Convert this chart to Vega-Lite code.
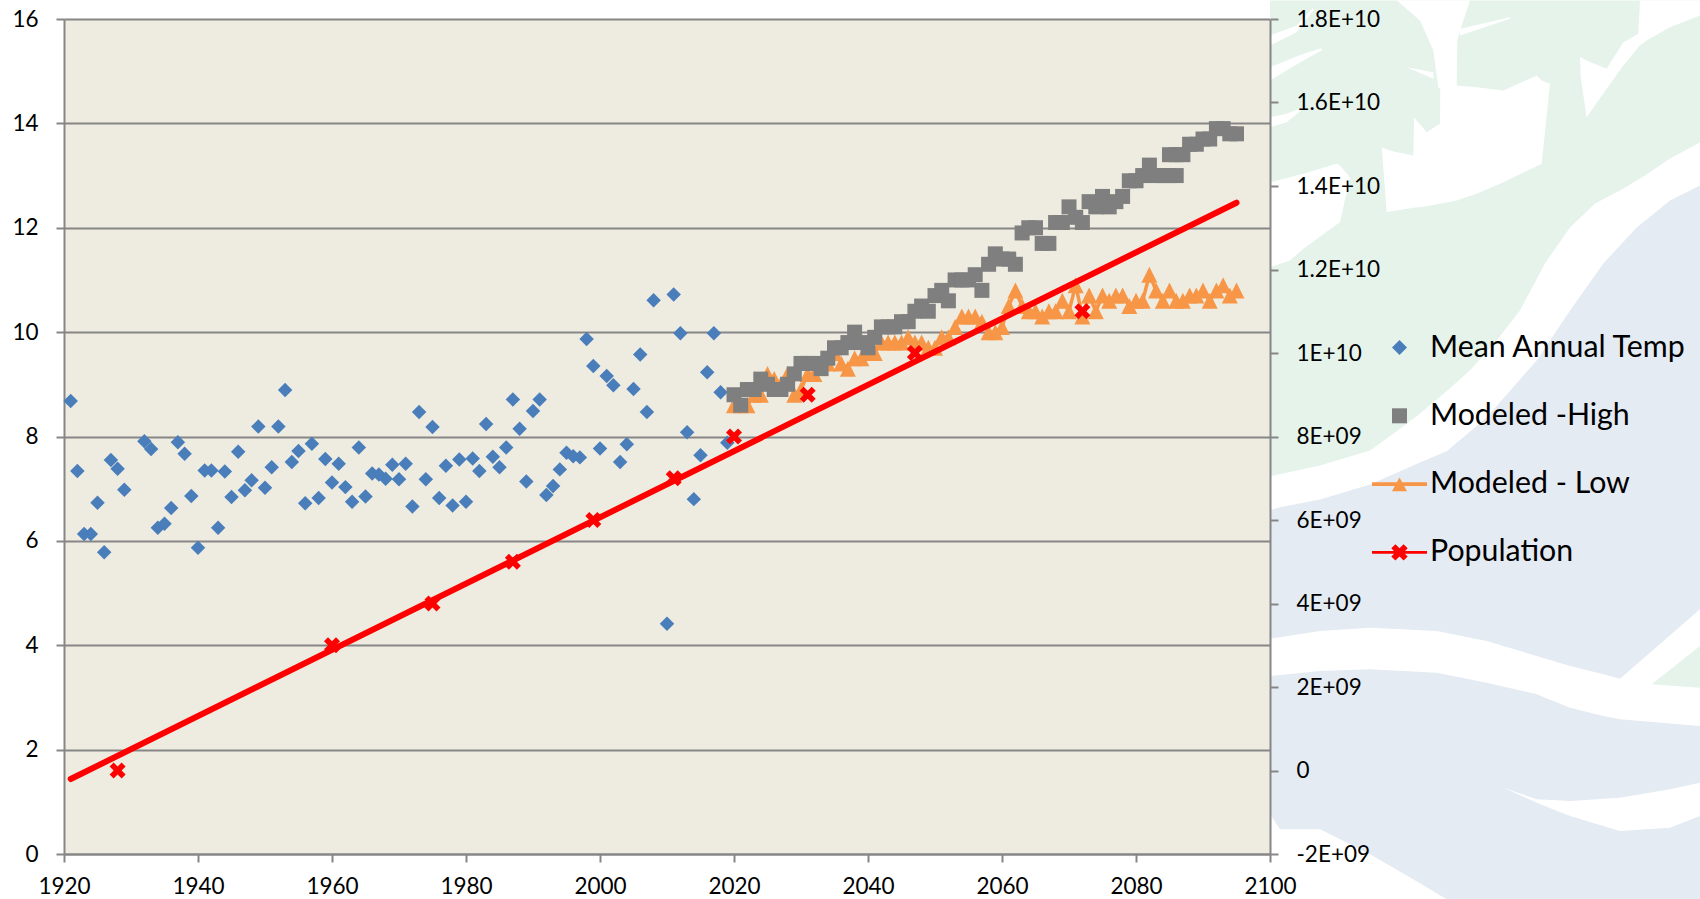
{"$schema":"https://vega.github.io/schema/vega-lite/v6.json","width":1206,"height":835,"autosize":"none","padding":{"left":64,"top":19,"right":430,"bottom":45},"background":"#ffffff","config":{"view":{"fill":"#EEECE1","stroke":null},"font":"Lato"},
"datasets":{
"green":[{"patch":"g","year":2100,"top":16.354,"bottom":7.236},{"patch":"g","year":2107.46,"top":16.354,"bottom":7.446},{"patch":"g","year":2114.93,"top":16.354,"bottom":7.734},{"patch":"g","year":2118.66,"top":16.354,"bottom":8.079},{"patch":"g","year":2122.39,"top":16.354,"bottom":8.443},{"patch":"g","year":2126.12,"top":16.354,"bottom":8.845},{"patch":"g","year":2129.85,"top":16.354,"bottom":9.266},{"patch":"g","year":2133.58,"top":16.354,"bottom":9.803},{"patch":"g","year":2137.31,"top":16.354,"bottom":10.416},{"patch":"g","year":2141.04,"top":16.354,"bottom":11.316},{"patch":"g","year":2144.78,"top":16.354,"bottom":12.006},{"patch":"g","year":2148.51,"top":16.354,"bottom":12.466},{"patch":"g","year":2152.24,"top":16.354,"bottom":12.715},{"patch":"g","year":2155.97,"top":16.354,"bottom":13.002},{"patch":"g","year":2159.7,"top":16.354,"bottom":13.328},{"patch":"g","year":2164.18,"top":16.354,"bottom":13.634}],
"blue":[{"patch":"b","year":2100,"top":6.585,"bottom":0.761},{"patch":"b","year":2101.49,"top":6.642,"bottom":0.473},{"patch":"b","year":2107.46,"top":6.795,"bottom":0.473},{"patch":"b","year":2114.93,"top":7.082,"bottom":-0.006},{"patch":"b","year":2122.39,"top":7.504,"bottom":-0.561},{"patch":"b","year":2126.37,"top":7.715,"bottom":-0.868},{"patch":"b","year":2132.34,"top":8.366,"bottom":-0.868},{"patch":"b","year":2139.8,"top":9.458,"bottom":-0.868},{"patch":"b","year":2144.78,"top":10.416,"bottom":-0.868},{"patch":"b","year":2149.75,"top":11.316,"bottom":-0.868},{"patch":"b","year":2154.73,"top":12.006,"bottom":-0.868},{"patch":"b","year":2159.7,"top":12.523,"bottom":-0.868},{"patch":"b","year":2164.18,"top":12.81,"bottom":-0.868}],
"white":[{"patch":"band","year":2100,"top":4.126,"bottom":3.411},{"patch":"band","year":2107.46,"top":4.273,"bottom":3.506},{"patch":"band","year":2114.93,"top":4.337,"bottom":3.538},{"patch":"band","year":2124.88,"top":4.273,"bottom":3.475},{"patch":"band","year":2132.34,"top":4.081,"bottom":3.283},{"patch":"band","year":2139.8,"top":3.794,"bottom":3.06},{"patch":"band","year":2144.78,"top":3.602,"bottom":2.804},{"patch":"band","year":2149.75,"top":3.443,"bottom":2.645},{"patch":"band","year":2152.24,"top":3.36,"bottom":2.581},{"patch":"band","year":2164.18,"top":4.688,"bottom":2.453},
{"patch":"crescent","year":2134.83,"top":1.271,"bottom":1.271},{"patch":"crescent","year":2139.8,"top":1.048,"bottom":0.984},{"patch":"crescent","year":2144.78,"top":1.016,"bottom":0.729},{"patch":"crescent","year":2152.24,"top":1.08,"bottom":0.441},{"patch":"crescent","year":2159.7,"top":1.24,"bottom":0.505},{"patch":"crescent","year":2164.18,"top":1.367,"bottom":0.729},
{"patch":"s1","year":2100,"top":15.683,"bottom":15.492},{"patch":"s1","year":2103.98,"top":15.875,"bottom":15.747},{"patch":"s1","year":2106.47,"top":16.226,"bottom":16.162},
{"patch":"s2","year":2100,"top":15.077,"bottom":14.821},{"patch":"s2","year":2104.98,"top":15.332,"bottom":15.205},{"patch":"s2","year":2107.71,"top":15.441,"bottom":15.396},
{"patch":"s3","year":2100,"top":14.119,"bottom":13.927},{"patch":"s3","year":2102.49,"top":14.183,"bottom":14.023},{"patch":"s3","year":2104.98,"top":14.31,"bottom":14.279},
{"patch":"inlet","year":2100,"top":12.874,"bottom":11.245},{"patch":"inlet","year":2102.99,"top":12.969,"bottom":11.373},{"patch":"inlet","year":2104.98,"top":13.033,"bottom":11.596},{"patch":"inlet","year":2109.95,"top":13.225,"bottom":12.063},{"patch":"inlet","year":2110.45,"top":13.193,"bottom":12.107},{"patch":"inlet","year":2111.94,"top":12.969,"bottom":12.969},
{"patch":"cut","year":2116.67,"top":13.544,"bottom":13.544},{"patch":"cut","year":2117.41,"top":13.5,"bottom":12.3},{"patch":"cut","year":2118.91,"top":13.448,"bottom":12.331},{"patch":"cut","year":2121.39,"top":13.384,"bottom":12.382},{"patch":"cut","year":2121.49,"top":14.119,"bottom":12.382},{"patch":"cut","year":2123.38,"top":13.832,"bottom":12.414},{"patch":"cut","year":2125.37,"top":13.991,"bottom":12.458},{"patch":"cut","year":2125.42,"top":14.681,"bottom":12.458},{"patch":"cut","year":2127.86,"top":14.726,"bottom":12.522},{"patch":"cut","year":2130.85,"top":14.694,"bottom":12.65},{"patch":"cut","year":2134.83,"top":14.63,"bottom":12.874},{"patch":"cut","year":2139.8,"top":14.917,"bottom":13.18},{"patch":"cut","year":2140.55,"top":14.821,"bottom":13.225},{"patch":"cut","year":2141.79,"top":14.757,"bottom":14.757},
{"patch":"channel","year":2118.91,"top":16.354,"bottom":16.354},{"patch":"channel","year":2122.39,"top":16.354,"bottom":15.971},{"patch":"channel","year":2124.38,"top":16.354,"bottom":15.396},{"patch":"channel","year":2125.12,"top":16.354,"bottom":14.681},{"patch":"channel","year":2127.86,"top":16.354,"bottom":14.681},{"patch":"channel","year":2127.96,"top":16.354,"bottom":15.588},{"patch":"channel","year":2128.61,"top":16.354,"bottom":15.875},{"patch":"channel","year":2129.85,"top":16.354,"bottom":16.354},
{"patch":"finger","year":2120.4,"top":15.077,"bottom":15.077},{"patch":"finger","year":2124.38,"top":14.981,"bottom":14.853},
{"patch":"strip","year":2128.36,"top":15.811,"bottom":15.683},{"patch":"strip","year":2135.82,"top":16.035,"bottom":16.003},
{"patch":"corner","year":2146.27,"top":15.268,"bottom":15.268},{"patch":"corner","year":2146.37,"top":15.268,"bottom":14.885},{"patch":"corner","year":2147.26,"top":15.204,"bottom":14.119},{"patch":"corner","year":2150.25,"top":15.045,"bottom":14.662},{"patch":"corner","year":2152.74,"top":15.556,"bottom":15.109},{"patch":"corner","year":2154.98,"top":15.715,"bottom":15.46},{"patch":"corner","year":2155.22,"top":16.354,"bottom":15.492},{"patch":"corner","year":2156.22,"top":16.354,"bottom":15.588},{"patch":"corner","year":2159.7,"top":16.354,"bottom":15.843},{"patch":"corner","year":2164.18,"top":16.354,"bottom":16.067}],
"isle":[{"patch":"i","year":2156.97,"top":3.251,"bottom":3.251},{"patch":"i","year":2164.18,"top":3.985,"bottom":3.187}],
"temp":[{"year":1921,"temp":8.68},{"year":1922,"temp":7.34},{"year":1923,"temp":6.13},{"year":1924,"temp":6.13},{"year":1925,"temp":6.73},{"year":1926,"temp":5.78},{"year":1927,"temp":7.55},{"year":1928,"temp":7.38},{"year":1929,"temp":6.98},{"year":1932,"temp":7.91},{"year":1933,"temp":7.76},{"year":1934,"temp":6.25},{"year":1935,"temp":6.33},{"year":1936,"temp":6.63},{"year":1937,"temp":7.89},{"year":1938,"temp":7.67},{"year":1939,"temp":6.86},{"year":1940,"temp":5.87},{"year":1941,"temp":7.35},{"year":1942,"temp":7.35},{"year":1943,"temp":6.25},{"year":1944,"temp":7.33},{"year":1945,"temp":6.84},{"year":1946,"temp":7.71},{"year":1947,"temp":6.97},{"year":1948,"temp":7.16},{"year":1949,"temp":8.19},{"year":1950,"temp":7.02},{"year":1951,"temp":7.41},{"year":1952,"temp":8.19},{"year":1953,"temp":8.89},{"year":1954,"temp":7.51},{"year":1955,"temp":7.72},{"year":1956,"temp":6.72},{"year":1957,"temp":7.86},{"year":1958,"temp":6.82},{"year":1959,"temp":7.57},{"year":1960,"temp":7.12},{"year":1961,"temp":7.48},{"year":1962,"temp":7.03},{"year":1963,"temp":6.75},{"year":1964,"temp":7.79},{"year":1965,"temp":6.85},{"year":1966,"temp":7.29},{"year":1967,"temp":7.27},{"year":1968,"temp":7.19},{"year":1969,"temp":7.46},{"year":1970,"temp":7.18},{"year":1971,"temp":7.48},{"year":1972,"temp":6.66},{"year":1973,"temp":8.47},{"year":1974,"temp":7.18},{"year":1975,"temp":8.18},{"year":1976,"temp":6.82},{"year":1977,"temp":7.44},{"year":1978,"temp":6.68},{"year":1979,"temp":7.56},{"year":1980,"temp":6.75},{"year":1981,"temp":7.58},{"year":1982,"temp":7.34},{"year":1983,"temp":8.24},{"year":1984,"temp":7.61},{"year":1985,"temp":7.41},{"year":1986,"temp":7.79},{"year":1987,"temp":8.71},{"year":1988,"temp":8.15},{"year":1989,"temp":7.14},{"year":1990,"temp":8.49},{"year":1991,"temp":8.71},{"year":1992,"temp":6.88},{"year":1993,"temp":7.05},{"year":1994,"temp":7.37},{"year":1995,"temp":7.69},{"year":1996,"temp":7.62},{"year":1997,"temp":7.6},{"year":1998,"temp":9.87},{"year":1999,"temp":9.35},{"year":2000,"temp":7.77},{"year":2001,"temp":9.16},{"year":2002,"temp":8.98},{"year":2003,"temp":7.51},{"year":2004,"temp":7.85},{"year":2005,"temp":8.91},{"year":2006,"temp":9.57},{"year":2007,"temp":8.47},{"year":2008,"temp":10.61},{"year":2010,"temp":4.41},{"year":2011,"temp":10.72},{"year":2012,"temp":9.98},{"year":2013,"temp":8.08},{"year":2014,"temp":6.8},{"year":2015,"temp":7.64},{"year":2016,"temp":9.23},{"year":2017,"temp":9.98},{"year":2018,"temp":8.85},{"year":2019,"temp":7.88}],
"high":[{"year":2020,"temp":8.8},{"year":2021,"temp":8.6},{"year":2022,"temp":8.9},{"year":2023,"temp":8.9},{"year":2024,"temp":9.1},{"year":2025,"temp":9.0},{"year":2026,"temp":8.9},{"year":2027,"temp":8.9},{"year":2028,"temp":9.0},{"year":2029,"temp":9.2},{"year":2030,"temp":9.4},{"year":2031,"temp":9.4},{"year":2032,"temp":9.4},{"year":2033,"temp":9.3},{"year":2034,"temp":9.5},{"year":2035,"temp":9.7},{"year":2036,"temp":9.7},{"year":2037,"temp":9.8},{"year":2038,"temp":10.0},{"year":2039,"temp":9.8},{"year":2040,"temp":9.7},{"year":2041,"temp":9.9},{"year":2042,"temp":10.1},{"year":2043,"temp":10.1},{"year":2044,"temp":10.1},{"year":2045,"temp":10.2},{"year":2046,"temp":10.2},{"year":2047,"temp":10.4},{"year":2048,"temp":10.5},{"year":2049,"temp":10.4},{"year":2050,"temp":10.7},{"year":2051,"temp":10.8},{"year":2052,"temp":10.6},{"year":2053,"temp":11.0},{"year":2054,"temp":11.0},{"year":2055,"temp":11.0},{"year":2056,"temp":11.1},{"year":2057,"temp":10.8},{"year":2058,"temp":11.3},{"year":2059,"temp":11.5},{"year":2060,"temp":11.4},{"year":2061,"temp":11.4},{"year":2062,"temp":11.3},{"year":2063,"temp":11.9},{"year":2064,"temp":12.0},{"year":2065,"temp":12.0},{"year":2066,"temp":11.7},{"year":2067,"temp":11.7},{"year":2068,"temp":12.1},{"year":2069,"temp":12.1},{"year":2070,"temp":12.4},{"year":2071,"temp":12.2},{"year":2072,"temp":12.1},{"year":2073,"temp":12.5},{"year":2074,"temp":12.4},{"year":2075,"temp":12.6},{"year":2076,"temp":12.4},{"year":2077,"temp":12.5},{"year":2078,"temp":12.6},{"year":2079,"temp":12.9},{"year":2080,"temp":12.9},{"year":2081,"temp":13.0},{"year":2082,"temp":13.2},{"year":2083,"temp":13.0},{"year":2084,"temp":13.0},{"year":2085,"temp":13.0},{"year":2086,"temp":13.0},{"year":2085,"temp":13.4},{"year":2086,"temp":13.4},{"year":2087,"temp":13.4},{"year":2088,"temp":13.6},{"year":2089,"temp":13.6},{"year":2090,"temp":13.7},{"year":2091,"temp":13.7},{"year":2092,"temp":13.9},{"year":2093,"temp":13.9},{"year":2094,"temp":13.8},{"year":2095,"temp":13.8}],
"low":[{"year":2020,"temp":8.6},{"year":2021,"temp":8.6},{"year":2022,"temp":8.6},{"year":2023,"temp":8.8},{"year":2024,"temp":8.8},{"year":2025,"temp":9.2},{"year":2026,"temp":9.1},{"year":2027,"temp":9.0},{"year":2028,"temp":9.2},{"year":2029,"temp":8.8},{"year":2030,"temp":8.9},{"year":2031,"temp":9.2},{"year":2032,"temp":9.2},{"year":2033,"temp":9.4},{"year":2034,"temp":9.4},{"year":2035,"temp":9.6},{"year":2036,"temp":9.4},{"year":2037,"temp":9.3},{"year":2038,"temp":9.5},{"year":2039,"temp":9.5},{"year":2040,"temp":9.6},{"year":2041,"temp":9.6},{"year":2042,"temp":9.8},{"year":2043,"temp":9.8},{"year":2044,"temp":9.8},{"year":2045,"temp":9.8},{"year":2046,"temp":9.9},{"year":2047,"temp":9.8},{"year":2048,"temp":9.8},{"year":2049,"temp":9.7},{"year":2050,"temp":9.7},{"year":2051,"temp":9.9},{"year":2052,"temp":9.9},{"year":2053,"temp":10.1},{"year":2054,"temp":10.3},{"year":2055,"temp":10.3},{"year":2056,"temp":10.3},{"year":2057,"temp":10.2},{"year":2058,"temp":10.0},{"year":2059,"temp":10.0},{"year":2060,"temp":10.1},{"year":2061,"temp":10.5},{"year":2062,"temp":10.8},{"year":2063,"temp":10.5},{"year":2064,"temp":10.4},{"year":2065,"temp":10.4},{"year":2066,"temp":10.3},{"year":2067,"temp":10.4},{"year":2068,"temp":10.4},{"year":2069,"temp":10.6},{"year":2070,"temp":10.4},{"year":2071,"temp":10.9},{"year":2072,"temp":10.3},{"year":2073,"temp":10.7},{"year":2074,"temp":10.4},{"year":2075,"temp":10.7},{"year":2076,"temp":10.6},{"year":2077,"temp":10.7},{"year":2078,"temp":10.7},{"year":2079,"temp":10.5},{"year":2080,"temp":10.6},{"year":2081,"temp":10.6},{"year":2082,"temp":11.1},{"year":2083,"temp":10.8},{"year":2084,"temp":10.6},{"year":2085,"temp":10.8},{"year":2086,"temp":10.6},{"year":2087,"temp":10.6},{"year":2088,"temp":10.7},{"year":2089,"temp":10.7},{"year":2090,"temp":10.8},{"year":2091,"temp":10.6},{"year":2092,"temp":10.8},{"year":2093,"temp":10.9},{"year":2094,"temp":10.7},{"year":2095,"temp":10.8}],
"pop":[{"year":1928,"population":0},{"year":1960,"population":3000000000},{"year":1975,"population":4000000000},{"year":1987,"population":5000000000},{"year":1999,"population":6000000000},{"year":2011,"population":7000000000},{"year":2020,"population":8000000000},{"year":2031,"population":9000000000},{"year":2047,"population":10000000000},{"year":2072,"population":11000000000}],
"trend":[{"year":1921,"population":-204000000},{"year":2095,"population":13600000000}],
"legendRows":[{"series":"Mean Annual Temp"},{"series":"Modeled -High"},{"series":"Modeled - Low"},{"series":"Population"}]
},
"encoding":{"x":{"field":"year","type":"quantitative","title":null,"scale":{"domain":[1920,2100],"nice":false,"zero":false},"axis":{"zindex":1,"values":[1920,1940,1960,1980,2000,2020,2040,2060,2080,2100],"format":"d","grid":false,"domainColor":"#868686","domainWidth":2,"tickColor":"#868686","tickWidth":2,"tickSize":8,"labelFontSize":22.5,"labelFont":"Lato","labelColor":"#000000","labelPadding":13,"labelFlush":false,"labelOverlap":false}}},
"layer":[
{"layer":[
{"data":{"name":"green"},"mark":{"type":"area","color":"#E5F3EB"},"encoding":{"detail":{"field":"patch"},"y":{"field":"top","type":"quantitative","title":null,"scale":{"domain":[0,16],"nice":false},"axis":{"values":[0,2,4,6,8,10,12,14,16],"grid":true,"gridColor":"#868686","gridWidth":2,"domainColor":"#868686","domainWidth":2,"tickColor":"#868686","tickWidth":2,"tickSize":8,"labelFontSize":22.5,"labelFont":"Lato","labelColor":"#000000","labelPadding":18}},"y2":{"field":"bottom"}}},
{"data":{"name":"blue"},"mark":{"type":"area","color":"#E5EBF3"},"encoding":{"detail":{"field":"patch"},"y":{"field":"top","type":"quantitative"},"y2":{"field":"bottom"}}},
{"data":{"name":"white"},"mark":{"type":"area","color":"#ffffff"},"encoding":{"detail":{"field":"patch"},"y":{"field":"top","type":"quantitative"},"y2":{"field":"bottom"}}},
{"data":{"name":"isle"},"mark":{"type":"area","color":"#E5F3EB"},"encoding":{"detail":{"field":"patch"},"y":{"field":"top","type":"quantitative"},"y2":{"field":"bottom"}}},
{"data":{"name":"temp"},"mark":{"type":"point","shape":"diamond","filled":true,"color":"#4A7EBB","size":210,"opacity":1,"strokeWidth":0},"encoding":{"y":{"field":"temp","type":"quantitative"}}},
{"data":{"name":"low"},"mark":{"type":"line","color":"#F79646","strokeWidth":3.5},"encoding":{"y":{"field":"temp","type":"quantitative"}}},
{"data":{"name":"low"},"mark":{"type":"point","shape":"M0,-1L1,1L-1,1Z","filled":true,"color":"#F79646","size":256,"opacity":1,"strokeWidth":0},"encoding":{"y":{"field":"temp","type":"quantitative"}}},
{"data":{"name":"high"},"mark":{"type":"point","shape":"square","filled":true,"color":"#7F7F7F","size":225,"opacity":1,"strokeWidth":0},"encoding":{"y":{"field":"temp","type":"quantitative"}}}
]},
{"layer":[
{"data":{"name":"trend"},"mark":{"type":"line","color":"#FF0000","strokeWidth":6,"strokeCap":"round"},"encoding":{"y":{"field":"population","type":"quantitative","title":null,"scale":{"domain":[-2000000000,18000000000],"nice":false,"zero":false},"axis":{"zindex":1,"orient":"right","values":[-2000000000,0,2000000000,4000000000,6000000000,8000000000,10000000000,12000000000,14000000000,16000000000,18000000000],"labelExpr":"datum.value === 0 ? '0' : replace(replace(replace(format(datum.value, '~e'), 'e', 'E'), regexp('E\\\\+(\\\\d)$'), 'E+0$1'), '\u2212', '-')","grid":false,"domainColor":"#868686","domainWidth":2,"tickColor":"#868686","tickWidth":2,"tickSize":8,"labelFontSize":22.5,"labelFont":"Lato","labelColor":"#000000","labelPadding":18,"labelAlign":"left"}}}},
{"data":{"name":"pop"},"mark":{"type":"point","shape":"M-1,-0.5L-0.5,-1L0,-0.5L0.5,-1L1,-0.5L0.5,0L1,0.5L0.5,1L0,0.5L-0.5,1L-1,0.5L-0.5,0Z","filled":true,"color":"#FF0000","size":256,"opacity":1,"strokeWidth":0},"encoding":{"y":{"field":"population","type":"quantitative"}}},
{"data":{"name":"legendRows"},"mark":{"type":"point","filled":true,"opacity":1,"strokeWidth":0},"encoding":{"y":{"field":"population","type":"quantitative"},
"color":{"field":"series","type":"nominal","scale":{"domain":["Mean Annual Temp","Modeled -High","Modeled - Low","Population"],"range":["#4A7EBB","#7F7F7F","#F79646","#FF0000"]},"legend":{"orient":"none","legendX":1301,"legendY":294,"title":null,"padding":0,"symbolSize":4665,"symbolStrokeWidth":0,"symbolOpacity":1,"rowPadding":18.3,"labelOffset":-4,"labelFont":"Lato","labelFontSize":30.3,"labelColor":"#000000","labelLimit":400}},
"shape":{"field":"series","type":"nominal","scale":{"domain":["Mean Annual Temp","Modeled -High","Modeled - Low","Population"],"range":["M0,-0.22L0.22,0L0,0.22L-0.22,0Z","M-0.22,-0.22L0.22,-0.22L0.22,0.22L-0.22,0.22Z","M-0.805,-0.056L0.805,-0.056L0.805,0.056L-0.805,0.056ZM0,-0.19L0.22,0.21L-0.22,0.21Z","M-0.805,-0.04L0.805,-0.04L0.805,0.04L-0.805,0.04ZM-0.24,-0.12L-0.12,-0.24L0,-0.12L0.12,-0.24L0.24,-0.12L0.12,0L0.24,0.12L0.12,0.24L0,0.12L-0.12,0.24L-0.24,0.12L-0.12,0Z"]},"legend":{"orient":"none","legendX":1301,"legendY":294,"title":null,"padding":0,"symbolSize":4665,"symbolStrokeWidth":0,"symbolOpacity":1,"rowPadding":18.3,"labelOffset":-4,"labelFont":"Lato","labelFontSize":30.3,"labelColor":"#000000","labelLimit":400}}}}
]}
],
"resolve":{"scale":{"y":"independent"},"axis":{"y":"independent"}}}
